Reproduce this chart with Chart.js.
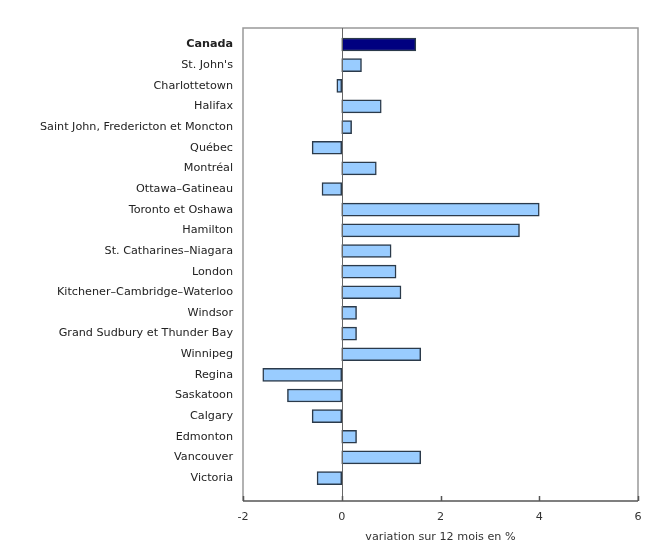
<!DOCTYPE html>
<html>
<head>
<meta charset="utf-8">
<script src="https://cdn.jsdelivr.net/npm/chart.js"></script>
<style>
  html, body { margin: 0; padding: 0; background: #fff; }
  #chart-wrapper { width: 659px; height: 553px; }
</style>
</head>
<body>
<div id="chart-wrapper">
    <canvas id="my-chart"></canvas>
</div>
<script>
// régions métropolitaines, variation sur 12 mois en %
const labels = [
  'Canada', "St. John's", 'Charlottetown', 'Halifax',
  'Saint John, Fredericton et Moncton', 'Québec', 'Montréal',
  'Ottawa–Gatineau', 'Toronto et Oshawa', 'Hamilton',
  'St. Catharines–Niagara', 'London', 'Kitchener–Cambridge–Waterloo',
  'Windsor', 'Grand Sudbury et Thunder Bay', 'Winnipeg', 'Regina',
  'Saskatoon', 'Calgary', 'Edmonton', 'Vancouver', 'Victoria'
];
const values = [
  1.5, 0.4, -0.1, 0.8,
  0.2, -0.6, 0.7,
  -0.4, 4.0, 3.6,
  1.0, 1.1, 1.2,
  0.3, 0.3, 1.6, -1.6,
  -1.1, -0.6, 0.3, 1.6, -0.5
];
const xTicks = [-2, 0, 2, 4, 6];
const xTitle = 'variation sur 12 mois en %';

const ctx = document.getElementById('my-chart');
const font = 'DejaVu Sans';
const fsize = 11.2;

var points = [];
for (var i in values) {
  points.push({x: values[i], y: Number(i)});
}

// cadre gris, ligne du zéro et petites marques vers l'intérieur
const framePlugin = {
  id: 'frame',
  afterDatasetsDraw(chart) {
    const c = chart.ctx;
    const a = chart.chartArea;
    const xs = chart.scales.x;
    c.save();
    c.strokeStyle = '#999';
    c.lineWidth = 1.5;
    c.beginPath();
    c.moveTo(a.left, a.bottom);
    c.lineTo(a.left, a.top);
    c.lineTo(a.right, a.top);
    c.lineTo(a.right, a.bottom);
    c.stroke();
    // zero line
    const x0 = Math.round(xs.getPixelForValue(0)) + 0.5;
    c.strokeStyle = '#666';
    c.lineWidth = 1;
    c.beginPath();
    c.moveTo(x0, a.top);
    c.lineTo(x0, a.bottom);
    c.stroke();
    // bottom axis
    c.strokeStyle = '#555';
    c.lineWidth = 1.5;
    c.beginPath();
    c.moveTo(a.left, a.bottom);
    c.lineTo(a.right, a.bottom);
    for (var t of xTicks) {
      const px = Math.round(xs.getPixelForValue(t)) + 0.5;
      c.moveTo(px, a.bottom);
      c.lineTo(px, a.bottom - 5);
    }
    c.stroke();
    c.restore();
  }
};

new Chart(ctx, {
  type: 'bar',
  data: {
    datasets: [{
      data: points,
      backgroundColor: points.map((p, i) => i === 0 ? '#000080' : '#99ccff'),
      borderColor: '#2b3a4a',
      borderWidth: 1.5,
      borderSkipped: false,
      barThickness: 13
    }]
  },
  options: {
    indexAxis: 'y',
    responsive: true,
    maintainAspectRatio: false,
    animation: false,
    layout: { padding: { top: 28, right: 21, left: 0, bottom: 0 } },
    plugins: { legend: { display: false }, tooltip: { enabled: false } },
    scales: {
      x: {
        type: 'linear',
        min: -2, max: 6,
        afterBuildTicks: s => { s.ticks = xTicks.map(v => ({value: v})); },
        afterFit: s => { s.height = 52; },
        grid: { display: false, drawTicks: false },
        border: { display: false },
        ticks: { padding: 9, color: '#333', font: { family: font, size: fsize } },
        title: {
          display: true, text: xTitle, color: '#333',
          font: { family: font, size: fsize },
          padding: { top: 0, bottom: 9 }
        }
      },
      y: {
        type: 'linear',
        reverse: true,
        offset: false,
        min: -0.8, max: 22.11,
        afterBuildTicks: s => { s.ticks = labels.map((l, i) => ({value: i})); },
        afterFit: s => { s.width = 243; },
        grid: { display: false, drawTicks: false, offset: false },
        border: { display: false },
        ticks: {
          padding: 10,
          color: '#222',
          autoSkip: false,
          callback: v => labels[v],
          font: c => ({ family: font, size: fsize, weight: c.index === 0 ? 'bold' : 'normal' })
        }
      }
    }
  },
  plugins: [framePlugin]
});
</script>
</body>
</html>
